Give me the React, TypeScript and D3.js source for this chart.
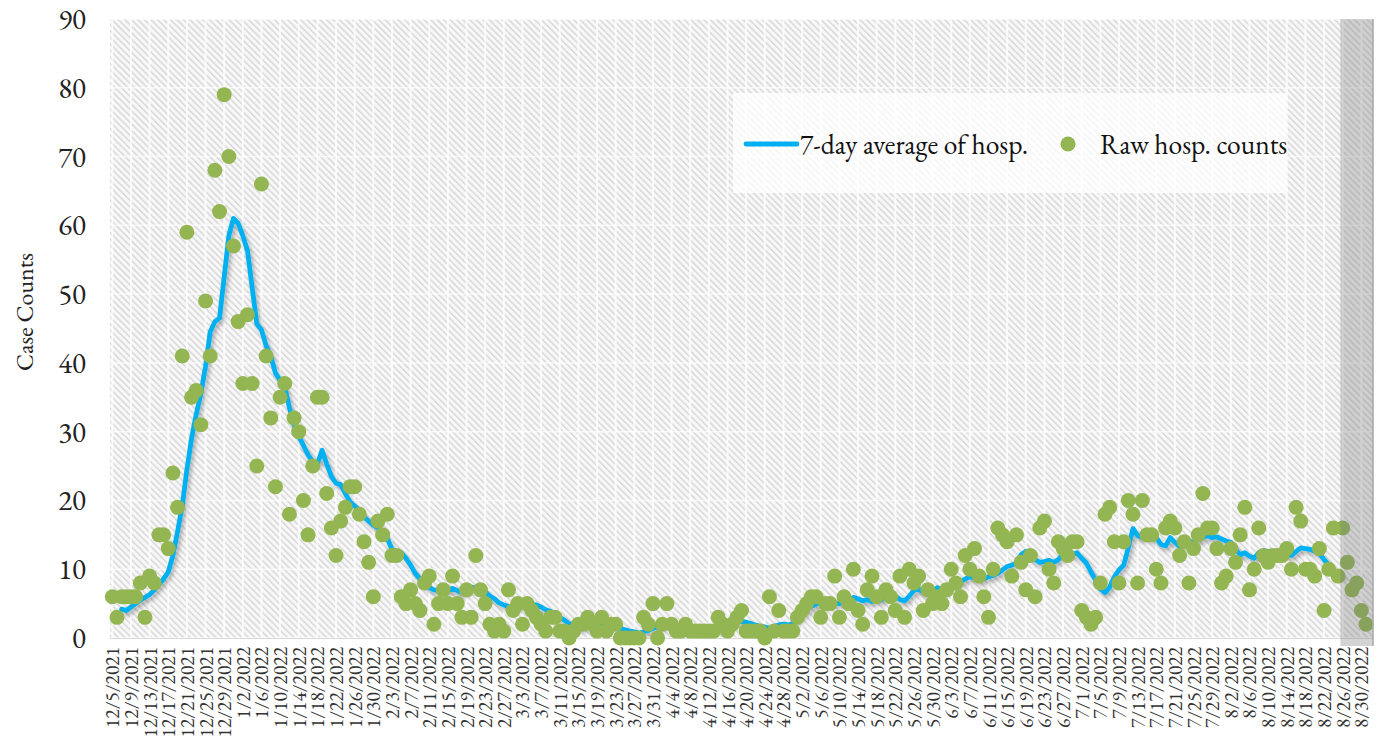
import React from "react";
import * as d3 from "d3";

// ---------- data ----------
const START_DATE = "2021-12-05";

// Raw daily hospitalization counts, 12/5/2021 .. 8/31/2022
const RAW_COUNTS: number[] = [
  6, 3, 6, 6, 6, 6, 8, 3, 9, 8,
  15, 15, 13, 24, 19, 41, 59, 35, 36, 31,
  49, 41, 68, 62, 79, 70, 57, 46, 37, 47,
  37, 25, 66, 41, 32, 22, 35, 37, 18, 32,
  30, 20, 15, 25, 35, 35, 21, 16, 12, 17,
  19, 22, 22, 18, 14, 11, 6, 17, 15, 18,
  12, 12, 6, 5, 7, 5, 4, 8, 9, 2,
  5, 7, 5, 9, 5, 3, 7, 3, 12, 7,
  5, 2, 1, 2, 1, 7, 4, 5, 2, 5,
  4, 3, 2, 1, 3, 3, 1, 1, 0, 1,
  2, 2, 3, 2, 1, 3, 1, 2, 2, 0,
  0, 0, 0, 0, 3, 2, 5, 0, 2, 5,
  2, 1, 1, 2, 1, 1, 1, 1, 1, 1,
  3, 2, 1, 2, 3, 4, 1, 1, 1, 1,
  0, 6, 1, 4, 1, 1, 1, 3, 4, 5,
  6, 6, 3, 5, 5, 9, 3, 6, 5, 10,
  4, 2, 7, 9, 6, 3, 7, 6, 4, 9,
  3, 10, 8, 9, 4, 7, 5, 6, 5, 7,
  10, 8, 6, 12, 10, 13, 9, 6, 3, 10,
  16, 15, 14, 9, 15, 11, 7, 12, 6, 16,
  17, 10, 8, 14, 13, 12, 14, 14, 4, 3,
  2, 3, 8, 18, 19, 14, 8, 14, 20, 18,
  8, 20, 15, 15, 10, 8, 16, 17, 16, 12,
  14, 8, 13, 15, 21, 16, 16, 13, 8, 9,
  13, 11, 15, 19, 7, 10, 16, 12, 11, 12,
  12, 12, 13, 10, 19, 17, 10, 10, 9, 13,
  4, 10, 16, 9, 16, 11, 7, 8, 4, 2,
];

// 7-day average, starting at day index 2 (12/7/2021)
const AVG_START_INDEX = 2;
const AVG_7DAY: number[] = [
  4.2, 4.0, 4.5, 5.0, 5.5, 5.9, 6.3, 7.0,
  7.8, 8.6, 9.6, 12.0, 15.5, 19.2, 24.5, 29.0, 32.5, 35.5,
  39.5, 44.5, 46.0, 46.5, 52.5, 58.5, 61.0, 60.3, 58.5, 56.3,
  51.0, 45.7, 44.8, 42.5, 41.0, 38.5, 37.5, 36.5, 33.5, 31.0,
  29.3, 28.0, 26.6, 25.7, 25.3, 27.3, 25.3, 23.5, 22.5, 22.3,
  21.0, 19.8, 19.2, 18.6, 17.6, 17.0, 16.4, 16.0, 15.5, 14.5,
  12.9, 12.6, 12.4, 11.6, 10.6, 9.4, 8.6, 7.8, 7.3, 7.0,
  6.9, 6.6, 7.0, 7.2, 6.9, 6.6, 6.9, 7.4, 7.3, 7.0,
  6.7, 6.1, 5.7, 5.1, 4.8, 4.6, 4.4, 4.5, 4.8, 4.7,
  4.9, 4.8, 4.5, 4.1, 3.9, 3.4, 3.0, 2.6, 2.1, 1.9,
  1.7, 1.6, 1.7, 1.9, 1.9, 2.0, 1.9, 1.7, 1.6, 1.4,
  1.2, 1.0, 0.9, 0.7, 0.9, 1.1, 1.4, 1.6, 1.7, 2.0,
  2.1, 1.9, 1.7, 1.6, 1.7, 1.4, 1.3, 1.2, 1.1, 1.3,
  1.4, 1.6, 1.9, 2.1, 2.3, 2.4, 2.3, 2.1, 1.9, 1.7,
  1.6, 1.4, 1.7, 1.9, 2.0, 1.9, 2.1, 2.7, 3.4, 4.1,
  4.6, 4.9, 5.1, 5.0, 4.9, 5.1, 5.0, 5.3, 5.4, 5.9,
  5.7, 5.4, 5.6, 5.3, 5.7, 5.5, 6.3, 6.6, 6.1, 5.6,
  5.4, 6.1, 6.9, 7.1, 6.7, 6.4, 6.7, 7.3, 7.0, 6.9,
  7.6, 8.0, 8.1, 8.6, 8.9, 8.7, 8.4, 8.6, 8.9, 9.1,
  9.4, 9.9, 10.4, 10.6, 10.9, 12.1, 12.6, 12.0, 11.4, 11.0,
  11.1, 11.3, 11.0, 11.4, 12.3, 12.6, 12.1, 12.4, 11.6, 10.9,
  9.6, 8.4, 7.1, 6.6, 7.4, 8.9, 9.9, 10.6, 13.1, 15.9,
  14.9, 14.6, 14.9, 14.4, 14.6, 13.6, 13.4, 14.6, 13.9, 13.3,
  13.6, 14.1, 13.9, 14.3, 14.6, 14.9, 14.6, 14.7, 14.4, 14.1,
  13.9, 12.9, 12.1, 12.4, 11.9, 11.6, 12.4, 12.7, 12.6, 12.3,
  12.6, 12.4, 12.1, 12.0, 12.6, 13.1, 13.0, 12.9, 12.6, 12.3,
  11.4, 10.6, 9.9, 9.3, 9.0,
];

const X_TICK_STEP = 4;
const X_TICK_LABELS: string[] = [
  "12/5/2021", "12/9/2021", "12/13/2021", "12/17/2021", "12/21/2021", "12/25/2021", "12/29/2021",
  "1/2/2022", "1/6/2022", "1/10/2022", "1/14/2022", "1/18/2022", "1/22/2022", "1/26/2022", "1/30/2022",
  "2/3/2022", "2/7/2022", "2/11/2022", "2/15/2022", "2/19/2022", "2/23/2022", "2/27/2022",
  "3/3/2022", "3/7/2022", "3/11/2022", "3/15/2022", "3/19/2022", "3/23/2022", "3/27/2022", "3/31/2022",
  "4/4/2022", "4/8/2022", "4/12/2022", "4/16/2022", "4/20/2022", "4/24/2022", "4/28/2022",
  "5/2/2022", "5/6/2022", "5/10/2022", "5/14/2022", "5/18/2022", "5/22/2022", "5/26/2022", "5/30/2022",
  "6/3/2022", "6/7/2022", "6/11/2022", "6/15/2022", "6/19/2022", "6/23/2022", "6/27/2022",
  "7/1/2022", "7/5/2022", "7/9/2022", "7/13/2022", "7/17/2022", "7/21/2022", "7/25/2022", "7/29/2022",
  "8/2/2022", "8/6/2022", "8/10/2022", "8/14/2022", "8/18/2022", "8/22/2022", "8/26/2022", "8/30/2022",
];

const Y_TICKS: number[] = [0, 10, 20, 30, 40, 50, 60, 70, 80, 90];
const Y_TITLE = "Case Counts";
const LEGEND_LINE = "7-day average of hosp.";
const LEGEND_DOTS = "Raw hosp. counts";
const SHADE_FROM_INDEX = 264; // 8/25/2022 onward (incomplete week)
const N_CATEGORIES = 271;

// ---------- styles ----------
const FONT = "'EB Garamond', Garamond, 'Liberation Serif', 'DejaVu Serif', serif";
const BLUE = "#00b0f0";
const GREEN = "#93b653";

export default function App() {
  const W = 1385;
  const H = 736;
  const left = 110;
  const right = 1373;
  const top = 19;
  const bottom = 638;

  const start = new Date(START_DATE + "T00:00:00");
  const categories = d3.timeDay.range(start, d3.timeDay.offset(start, N_CATEGORIES));

  const x = d3
    .scaleLinear()
    .domain([-0.5, categories.length - 0.5])
    .range([left, right]);
  const y = d3.scaleLinear().domain([0, 90]).range([bottom, top]);

  const linePath =
    d3
      .line<number>()
      .x((_, i) => x(i + AVG_START_INDEX))
      .y((d) => y(d))
      .curve(d3.curveLinear)(AVG_7DAY) || "";

  const shadeX = x(SHADE_FROM_INDEX - 0.5);

  return (
    <svg
      width={W}
      height={H}
      viewBox={`0 0 ${W} ${H}`}
      style={{ position: "absolute", left: 0, top: 0, background: "#ffffff" }}
      fontFamily={FONT}
    >
      <defs>
        <pattern
          id="hatch"
          width={4.6}
          height={4.6}
          patternUnits="userSpaceOnUse"
          patternTransform="rotate(-45)"
        >
          <rect width={4.6} height={4.6} fill="#f8f8f8" />
          <line x1={0.8} y1={0} x2={0.8} y2={4.6} stroke="#d5d5d5" strokeWidth={1.4} />
        </pattern>
        <filter id="shadow" x="-5%" y="-5%" width="110%" height="115%">
          <feDropShadow dx={2} dy={3} stdDeviation={2} floodColor="#000" floodOpacity={0.3} />
        </filter>
      </defs>

      {/* plot background */}
      <rect x={left} y={top} width={right - left} height={bottom - top} fill="url(#hatch)" />

      {/* horizontal gridlines */}
      {Y_TICKS.map((t) => (
        <line
          key={"hg" + t}
          x1={left}
          x2={right}
          y1={y(t)}
          y2={y(t)}
          stroke="#ffffff"
          strokeOpacity={0.7}
          strokeWidth={1.5}
        />
      ))}

      {/* vertical gridlines */}
      {X_TICK_LABELS.map((_, k) => (
        <line
          key={"vg" + k}
          x1={x(k * X_TICK_STEP)}
          x2={x(k * X_TICK_STEP)}
          y1={top}
          y2={bottom}
          stroke="#ffffff"
          strokeOpacity={0.75}
          strokeWidth={2}
        />
      ))}

      {/* axis baseline */}
      <line x1={left} x2={right} y1={bottom + 0.5} y2={bottom + 0.5} stroke="#d9d9d9" strokeWidth={1} />

      {/* 7-day average line */}
      <path
        d={linePath}
        fill="none"
        stroke={BLUE}
        strokeWidth={4.8}
        strokeLinejoin="round"
        strokeLinecap="round"
        filter="url(#shadow)"
      />

      {/* raw counts */}
      {RAW_COUNTS.map((v, i) => (
        <circle key={"p" + i} cx={x(i)} cy={y(v)} r={7.5} fill={GREEN} />
      ))}

      {/* shaded incomplete-data region */}
      <rect
        x={shadeX}
        y={top}
        width={right - shadeX}
        height={bottom - top + 8}
        fill="#707070"
        fillOpacity={0.3}
      />
      <line x1={right} x2={right} y1={top} y2={bottom + 8} stroke="#a6a6a6" strokeWidth={1.5} />

      {/* legend */}
      <rect x={733} y={93} width={553} height={100} fill="#ffffff" fillOpacity={0.78} />
      <line x1={746} x2={797} y1={144} y2={144} stroke={BLUE} strokeWidth={4.8} strokeLinecap="round" />
      <text x={800} y={144} fontSize={27.5} dominantBaseline="central" fill="#111">
        {LEGEND_LINE}
      </text>
      <circle cx={1068} cy={144} r={7.5} fill={GREEN} />
      <text x={1100} y={144} fontSize={27.5} dominantBaseline="central" fill="#111">
        {LEGEND_DOTS}
      </text>

      {/* y tick labels */}
      {Y_TICKS.map((t) => (
        <text
          key={"yt" + t}
          x={86}
          y={y(t)}
          fontSize={29}
          textAnchor="end"
          dominantBaseline="central"
          fill="#222"
        >
          {t}
        </text>
      ))}

      {/* y title */}
      <text
        transform={`translate(24, 312) rotate(-90)`}
        fontSize={24}
        textAnchor="middle"
        dominantBaseline="central"
        fill="#222"
      >
        {Y_TITLE}
      </text>

      {/* x tick labels */}
      {X_TICK_LABELS.map((lab, k) => (
        <text
          key={"xt" + k}
          transform={`translate(${x(k * X_TICK_STEP)}, ${bottom + 9}) rotate(-90)`}
          fontSize={19.5}
          textAnchor="end"
          dominantBaseline="central"
          fill="#333"
        >
          {lab}
        </text>
      ))}
    </svg>
  );
}
